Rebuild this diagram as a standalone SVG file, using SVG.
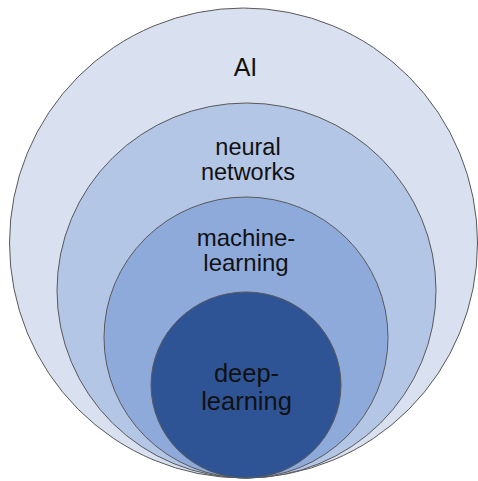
<svg xmlns="http://www.w3.org/2000/svg" width="478" height="481" viewBox="0 0 478 481">
  <style>
    .ring { stroke: #595959; stroke-width: 1; }
    .label { font-family: "Liberation Sans", Arial, sans-serif; fill: #111; text-anchor: middle; }
  </style>
  <rect width="478" height="481" fill="#ffffff"/>
  <!-- nested sets, all touching at the bottom -->
  <g id="ai">
    <ellipse class="ring" cx="243.5" cy="243" rx="234" ry="235" fill="#d9e0f0"/>
    <text class="label" x="245.5" y="76" font-size="25">AI</text>
  </g>
  <g id="neural-networks">
    <ellipse class="ring" cx="246.5" cy="290.5" rx="189.5" ry="187.5" fill="#b4c6e5"/>
    <text class="label" font-size="23.5"><tspan x="248" y="155">neural</tspan><tspan x="248" y="180">networks</tspan></text>
  </g>
  <g id="machine-learning">
    <ellipse class="ring" cx="246" cy="337.5" rx="142" ry="140.5" fill="#8eaadb"/>
    <text class="label" font-size="24"><tspan x="246" y="245.5">machine-</tspan><tspan x="246" y="270.5">learning</tspan></text>
  </g>
  <g id="deep-learning">
    <ellipse class="ring" cx="246" cy="385" rx="95" ry="93" fill="#2f5496"/>
    <text class="label" font-size="25.5"><tspan x="246.5" y="382">deep-</tspan><tspan x="246.5" y="410">learning</tspan></text>
  </g>
  <g id="connectors"/>
</svg>
